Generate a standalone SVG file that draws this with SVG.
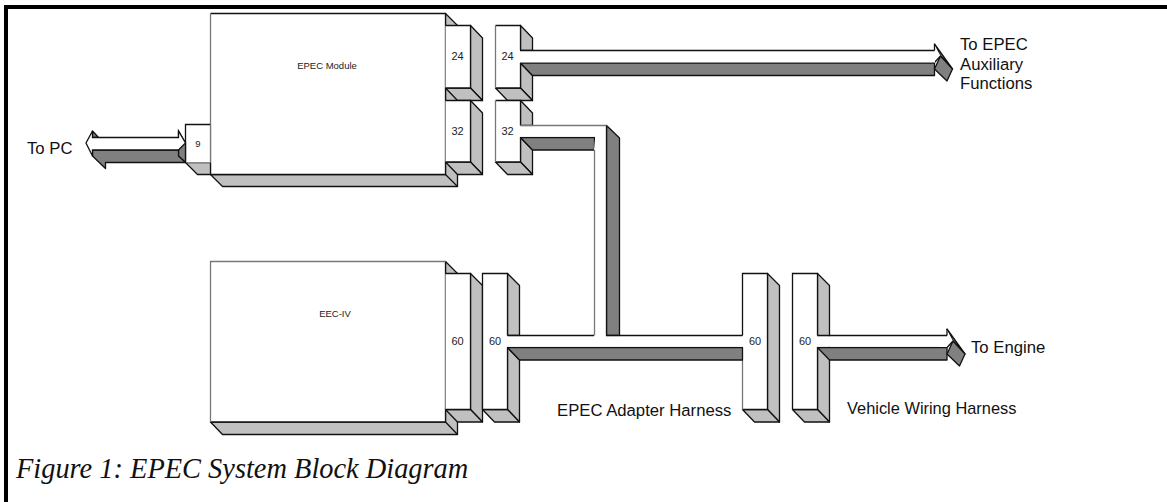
<svg xmlns="http://www.w3.org/2000/svg" xmlns:xlink="http://www.w3.org/1999/xlink" width="1167" height="502" viewBox="0 0 1167 502">
<style>
text{font-family:"Liberation Sans",Arial,sans-serif;fill:#222}
.s{font-size:9.5px;text-anchor:middle}
.n{font-size:11px;text-anchor:middle}
.l{font-size:16.7px;fill:#111}
.cap{font-family:"Liberation Serif","Times New Roman",serif;font-style:italic;font-size:28.4px;fill:#111}
.w{fill:#fff;stroke:none}
.g{fill:#c0c0c0;stroke:#111;stroke-width:1.3;stroke-linejoin:round}
.d{fill:#808080;stroke:#111;stroke-width:1.3;stroke-linejoin:round}
.o{fill:none;stroke:#111;stroke-width:1.3}
.e{fill:none;stroke:#777;stroke-width:1.3}
</style>
<defs>
<g id="head">
<polygon class="d" points="947,329 965,354 953,341"/>
<polygon class="d" points="953,341 965,354 959.5,366 947,354"/>
<polygon class="w" points="940,336 947,336 947,330 953,341 947,347 940,347"/>
<path class="o" d="M947 335.5V329M947 347.5L953 341"/>
</g>
</defs>
<g id="frame"><rect x="4" y="5" width="1163" height="4" fill="#000"/><rect x="4" y="5" width="4" height="497" fill="#000"/></g>

<g id="epec-module">
<polygon class="g" points="445.5,13.5 457.5,25.5 457.5,186.5 222.5,186.5 210.5,174.5 445.5,174.5"/>
<rect class="w" x="210.5" y="13.5" width="235" height="161"/>
<path class="o" d="M210.5 13.5H445.5V174.5H210.5"/><path class="e" d="M210.5 13.5V174.5"/>
<path class="o" d="M445.5 174.5L457.5 186.5"/>
<text class="s" x="327" y="69">EPEC Module</text>
</g>
<g id="port-9">
<polygon class="g" points="185.5,162.5 210.5,162.5 210.5,174.5 197.5,174.5"/>
<rect class="w" x="185.5" y="124.5" width="25" height="38"/>
<path class="o" d="M185.5 162.5V124.5H210.5"/><path class="e" d="M210.5 124.5V162.5"/>
<text class="s" x="198" y="146.5">9</text>
</g>
<g id="port-24">
<polygon class="g" points="470.5,25.5 482.5,38 482.5,100.5 470.5,88"/>
<polygon class="g" points="445.5,88 470.5,88 482.5,100.5 457.5,100.5"/>
<rect class="w" x="445.5" y="25.5" width="25" height="62.5"/>
<path class="o" d="M445.5 25.5H470.5V88H445.5"/>
<text class="n" x="457.5" y="60">24</text>
</g>
<g id="port-32">
<polygon class="g" points="470.5,100.5 482.5,113 482.5,174.5 470.5,162"/>
<polygon class="g" points="445.5,162 470.5,162 482.5,174.5 457.5,174.5"/>
<rect class="w" x="445.5" y="100.5" width="25" height="61.5"/>
<path class="o" d="M445.5 100.5H470.5V162H445.5"/>
<text class="n" x="457.5" y="135">32</text>
</g>
<g id="plug-24">
<polygon class="g" points="520.5,25.5 532.5,38 532.5,50.5 520.5,50.5"/>
<polygon class="g" points="520.5,63 532.5,75.5 532.5,100.5 520.5,88"/>
<polygon class="g" points="495.5,88 520.5,88 532.5,100.5 507.5,100.5"/>
<rect class="w" x="495.5" y="25.5" width="25" height="62.5"/>
<path class="o" d="M495.5 25.5H520.5V50.5M520.5 63V88H495.5"/><path class="e" d="M495.5 25.5V88"/>
<text class="n" x="507.5" y="60">24</text>
</g>
<g id="plug-32">
<polygon class="g" points="520.5,100.5 532.5,113 532.5,125.5 520.5,125.5"/>
<polygon class="g" points="520.5,137.5 532.5,150 532.5,174.5 520.5,162"/>
<polygon class="g" points="495.5,162 520.5,162 532.5,174.5 507.5,174.5"/>
<rect class="w" x="495.5" y="100.5" width="25" height="61.5"/>
<path class="o" d="M495.5 100.5H520.5V125.5M520.5 137.5V162H495.5"/><path class="e" d="M495.5 100.5V162"/>
<text class="n" x="507.5" y="135">32</text>
</g>

<g id="eec-iv">
<polygon class="g" points="445.5,261.5 457.5,273.5 457.5,434.5 222.5,434.5 210.5,422 445.5,422"/>
<rect class="w" x="210.5" y="261.5" width="235" height="160.5"/>
<path class="o" d="M445.5 261.5V422H210.5M445.5 422L457.5 434.5"/><path class="e" d="M210.5 422V261.5H445.5"/>
<text class="s" x="335" y="317">EEC-IV</text>
</g>
<g id="port-60">
<polygon class="g" points="470.5,273.5 482.5,285.5 482.5,422 470.5,409.5"/>
<polygon class="g" points="445.5,409.5 470.5,409.5 482.5,422 457.5,422"/>
<rect class="w" x="445.5" y="273.5" width="25" height="136"/>
<path class="o" d="M445.5 273.5H470.5V409.5H445.5"/>
<text class="n" x="457.5" y="345">60</text>
</g>
<g id="plug-60">
<polygon class="g" points="507.5,273.5 519.5,285.5 519.5,335.5 507.5,335.5"/>
<polygon class="g" points="507.5,347.5 519.5,360 519.5,422 507.5,409.5"/>
<polygon class="g" points="482.5,409.5 507.5,409.5 519.5,422 494.5,422"/>
<rect class="w" x="482.5" y="273.5" width="25" height="136"/>
<path class="o" d="M482.5 409.5V273.5H507.5V335.5M507.5 347.5V409.5H482.5"/>
<text class="n" x="495" y="345">60</text>
</g>
<g id="adapter-60">
<polygon class="g" points="767.5,273.5 779.5,285.5 779.5,422 767.5,409.5"/>
<polygon class="g" points="742.5,409.5 767.5,409.5 779.5,422 754.5,422"/>
<rect class="w" x="742.5" y="273.5" width="25" height="136"/>
<path class="o" d="M742.5 335.5V273.5H767.5V409.5H742.5"/><path class="e" d="M742.5 360V409.5"/>
<text class="n" x="755" y="345">60</text>
</g>
<g id="vehicle-60">
<polygon class="g" points="817.5,273.5 829.5,285.5 829.5,422 817.5,409.5"/>
<polygon class="g" points="792.5,409.5 817.5,409.5 829.5,422 804.5,422"/>
<rect class="w" x="792.5" y="273.5" width="25" height="136"/>
<path class="o" d="M792.5 409.5V273.5H817.5V335.5M817.5 347.5V409.5H792.5"/>
<text class="n" x="805" y="345">60</text>
</g>

<g id="connectors">
<g id="wire-aux">
<polygon class="d" points="520.5,63 934.5,63 934.5,75.5 532.5,75.5"/>
<use xlink:href="#head" href="#head" transform="translate(-12.5,-285)"/>
<rect class="w" x="519" y="51" width="416" height="11.4"/>
<path class="o" d="M520 50.5H934.5"/>
</g>
<g id="wire-harness">
<polygon class="d" points="606.5,125.5 619.5,138 619.5,335.5 606.5,335.5"/>
<polygon class="d" points="520.5,137.5 594.5,137.5 594.5,150 532.5,150"/>
<polygon class="d" points="507.5,347.5 742.5,347.5 742.5,360 519.5,360"/>
<polygon class="w" points="507,336.2 594,336.2 594,150.7 595.2,136.8 519.5,136.8 519.5,126.2 606,126.2 606,336.2 743,336.2 743,346.8 507,346.8"/>
<path class="o" d="M507.5 335.5H594M606.5 125.5V335.5H742.5"/>
<path class="e" d="M520 125.5H606.5M594.5 150V335.5"/>
</g>
<g id="wire-engine">
<polygon class="d" points="817.5,347.5 947,347.5 947,360 829.5,360"/>
<use xlink:href="#head" href="#head"/>
<rect class="w" x="817" y="336.2" width="130" height="10.6"/>
<path class="o" d="M817.5 335.5H947"/>
</g>
<g id="wire-pc">
<polygon class="d" points="178.5,131 185.5,143 185.5,162.5 178.5,156"/>
<polygon class="d" points="92.5,131 98.5,137.5 92.5,137.5"/>
<polygon class="d" points="92.5,150 178.5,150 178.5,156 185.5,162.5 105.5,162.5 105.5,168.5 92.5,156"/>
<polygon points="92.5,131 92.5,137.5 178.5,137.5 178.5,131 185.5,143 178.5,150 92.5,150 92.5,156 86,143" fill="#fff" stroke="#111" stroke-width="1.3"/>
</g>
</g>

<g id="labels">
<text class="l" x="27" y="154">To PC</text>
<text class="l" x="960" y="50">To EPEC</text>
<text class="l" x="960" y="69.5">Auxiliary</text>
<text class="l" x="960" y="89">Functions</text>
<text class="l" x="971" y="352.5">To Engine</text>
<text class="l" x="557" y="416">EPEC Adapter Harness</text>
<text class="l" x="847" y="414" style="font-size:16.4px">Vehicle Wiring Harness</text>
<text class="cap" x="16" y="478">Figure 1: EPEC System Block Diagram</text>
</g>
</svg>
